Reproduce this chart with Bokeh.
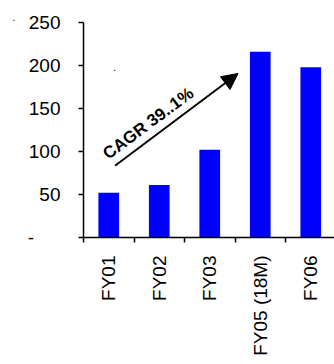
from math import pi, atan2
from bokeh.plotting import figure
from bokeh.models import ColumnDataSource, FixedTicker, Arrow, NormalHead, Label, Range1d
from bokeh.embed import file_html
from bokeh.resources import INLINE

categories = ["FY01", "FY02", "FY03", "FY05 (18M)", "FY06"]
values = [52, 61, 102, 216, 198]
y_ticks = [0, 50, 100, 150, 200, 250]
y_tick_labels = ["-\u00a0\u00a0\u00a0\u00a0\u00a0", "50", "100", "150", "200", "250"]
cagr_text = "CAGR 39..1%"

xs = list(range(len(categories)))
src = ColumnDataSource(dict(x=xs, top=values))

p = figure(width=334, height=364, output_backend="svg", toolbar_location=None,
           x_range=Range1d(-0.5, 4.47), y_range=Range1d(0, 250),
           min_border_left=0, min_border_right=0, min_border_top=22, min_border_bottom=127)
p.outline_line_color = None
p.grid.visible = False
p.background_fill_color = "white"
p.border_fill_color = "white"

# stray dot at the top-left corner of the original
p.title.text = "."
p.title.text_font = "Liberation Sans"
p.title.text_font_size = "10px"
p.title.text_font_style = "normal"
p.title.text_color = "black"
p.title.offset = -71
p.title.standoff = 0
p.title.vertical_align = "top"

p.vbar(x="x", top="top", width=0.41, source=src, color="#0000FF", line_color=None)

font = "Liberation Sans"
fs = "19px"
# x axis
xa = p.xaxis[0]
xa.ticker = FixedTicker(ticks=xs, minor_ticks=[i - 0.5 for i in range(len(categories) + 1)])
xa.major_label_overrides = {i: c for i, c in enumerate(categories)}
xa.major_label_orientation = pi / 2
xa.major_tick_line_color = None
xa.major_tick_out = 5
xa.major_tick_in = 0
xa.minor_tick_line_color = "black"
xa.minor_tick_out = 5
xa.minor_tick_in = 0
xa.axis_line_color = "black"
xa.axis_line_width = 1.5
xa.minor_tick_line_width = 1.5
xa.major_label_standoff = 13
xa.major_label_text_font = font
xa.major_label_text_font_size = fs
xa.major_label_text_color = "black"

# y axis
ya = p.yaxis[0]
ya.ticker = FixedTicker(ticks=y_ticks)
ya.major_label_overrides = {t: l for t, l in zip(y_ticks, y_tick_labels)}
ya.minor_tick_line_color = None
ya.major_tick_out = 5
ya.major_tick_in = 0
ya.major_tick_line_color = "black"
ya.major_tick_line_width = 1.5
ya.axis_line_color = "black"
ya.axis_line_width = 1.5
ya.major_label_standoff = 18
ya.major_label_text_font = font
ya.major_label_text_font_size = fs
ya.major_label_text_color = "black"
ya.axis_label = "\u00a0"
ya.axis_label_standoff = 0
ya.axis_label_text_font_size = "19px"

# CAGR arrow
ax0, ay0, ax1, ay1 = 0.124, 83.5, 2.56, 190.7
p.add_layout(Arrow(x_start=ax0, y_start=ay0, x_end=ax1, y_end=ay1, line_color="black", line_width=2,
                   end=NormalHead(size=16, fill_color="black", line_color="black")))
ang = atan2(91.7, 123.4)
p.add_layout(Label(x=-0.073, y=95.2, text=cagr_text, angle=ang, text_font=font,
                   text_font_style="bold", text_font_size="17px", text_color="black",
                   text_align="left", text_baseline="alphabetic"))
p.add_layout(Label(x=0.09, y=193.7, text=".", text_font=font, text_font_size="10px", text_color="black"))

open("out.html", "w").write(file_html(p, INLINE))
